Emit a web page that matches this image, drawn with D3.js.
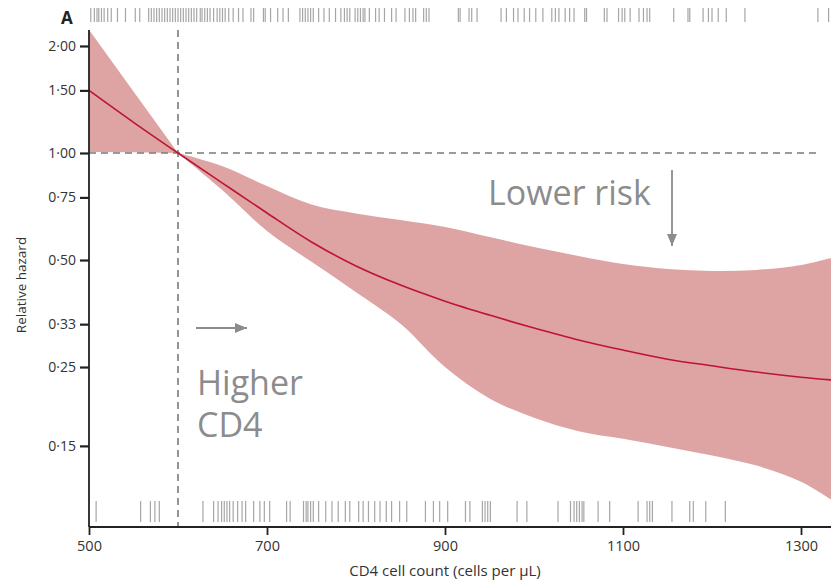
<!DOCTYPE html>
<meta charset="utf-8">
<style>
  body { margin: 0; background: #fff; }
  text { font-family: "Open Sans", "DejaVu Sans", sans-serif; }
</style>
<script src="https://cdn.jsdelivr.net/npm/d3@7"></script>

<div id="d3chart"></div>

<script>
    // CD4 grid and estimated curves (relative hazard)
    var cd4 = [500, 550, 600, 650, 700, 750, 800, 850, 900, 950, 1000, 1050, 1100, 1150, 1200, 1250, 1300, 1334];
    var hazard = [1.50, 1.22, 1.00, 0.823, 0.678, 0.562, 0.481, 0.425, 0.383, 0.350, 0.322, 0.298, 0.279, 0.263, 0.252, 0.242, 0.234, 0.230];
    var upper = [2.22, 1.49, 1.00, 0.918, 0.807, 0.716, 0.676, 0.648, 0.619, 0.580, 0.544, 0.513, 0.487, 0.472, 0.466, 0.469, 0.484, 0.507];
    var lower = [1.006, 1.005, 1.00, 0.785, 0.603, 0.494, 0.406, 0.331, 0.250, 0.204, 0.180, 0.165, 0.157, 0.149, 0.141, 0.132, 0.119, 0.106];

    // rug of observations (CD4 values)
    var rugTop = [502, 506, 509, 511, 514, 517, 521, 525, 532, 541, 552, 557, 567, 570, 573, 576, 579, 582, 585, 588,
        591, 594, 597, 600, 603, 606, 609, 612, 615, 618, 621, 625, 627, 630, 633, 636, 640, 644, 647, 650,
        653, 657, 662, 668, 673, 682, 685, 696, 698, 704, 712, 718, 724, 737, 740, 743, 746, 749, 752, 758,
        764, 770, 777, 783, 787, 790, 793, 799, 802, 805, 808, 810, 815, 822, 826, 832, 840, 845, 855, 860,
        864, 867, 876, 879, 882, 915, 917, 927, 930, 936, 963, 969, 977, 982, 989, 995, 1002, 1010, 1020, 1024,
        1028, 1035, 1040, 1045, 1057, 1059, 1079, 1082, 1095, 1099, 1102, 1108, 1118, 1123, 1127, 1130, 1157, 1173, 1175, 1190,
        1196, 1200, 1207, 1216, 1237, 1319, 1331];
    var rugBottom = [508, 558, 569, 574, 579, 628, 640, 645, 649, 652, 655, 658, 662, 667, 672, 676, 685, 692, 697, 703,
        722, 726, 741, 744, 746, 749, 752, 758, 766, 773, 780, 788, 793, 803, 808, 814, 821, 827, 834, 840,
        849, 857, 878, 887, 894, 903, 923, 928, 942, 945, 948, 951, 981, 992, 1027, 1041, 1045, 1048, 1051, 1054,
        1056, 1072, 1085, 1117, 1127, 1130, 1133, 1155, 1175, 1179, 1193, 1215];

    var xTicks = [500, 700, 900, 1100, 1300];
    var yTicks = [2.00, 1.50, 1.00, 0.75, 0.50, 0.33, 0.25, 0.15];

    var data = cd4.map(function(c, i) {
        return {x: c, h: hazard[i], hi: upper[i], lo: lower[i]};
    });

    var W = 831, H = 582;
    var svg = d3.select("#d3chart")
        .append("svg")
        .attr("width", W)
        .attr("height", H);

    var x = d3.scaleLinear()
        .domain([500, 1300])
        .range([89, 801]);

    var y = d3.scaleLog()
        .domain([0.0887, 2.218])
        .range([527, 30]);

    var grey = "#8c8c8c";

    // confidence band, split at the reference point (600)
    var area = d3.area()
        .x(function(d) { return x(d.x); })
        .y0(function(d) { return y(d.lo); })
        .y1(function(d) { return y(d.hi); });

    svg.append("path")
        .datum(data.filter(function(d) { return d.x <= 600; }))
        .attr("fill", "#dea4a3")
        .attr("d", area.curve(d3.curveLinear));

    svg.append("path")
        .datum(data.filter(function(d) { return d.x >= 600; }))
        .attr("fill", "#dea4a3")
        .attr("d", area.curve(d3.curveCatmullRom.alpha(0.5)));

    // reference lines
    svg.append("line")
        .attr("x1", x(500)).attr("x2", x(1318))
        .attr("y1", y(1)).attr("y2", y(1))
        .attr("stroke", "#7a7a7a")
        .attr("stroke-width", 1.6)
        .attr("stroke-dasharray", "7,5");

    svg.append("line")
        .attr("x1", x(600)).attr("x2", x(600))
        .attr("y1", y(2.218)).attr("y2", y(0.0887))
        .attr("stroke", "#7a7a7a")
        .attr("stroke-width", 1.6)
        .attr("stroke-dasharray", "7,5");

    // hazard line
    svg.append("path")
        .datum(data)
        .attr("fill", "none")
        .attr("stroke", "#be1432")
        .attr("stroke-width", 1.6)
        .attr("d", d3.line()
            .x(function(d) { return x(d.x); })
            .y(function(d) { return y(d.h); })
            .curve(d3.curveCatmullRom.alpha(0.5)));

    // rugs
    svg.append("g").selectAll("line")
        .data(rugTop)
        .enter().append("line")
        .attr("x1", function(d) { return x(d); })
        .attr("x2", function(d) { return x(d); })
        .attr("y1", 8).attr("y2", 22)
        .attr("stroke", "#888")
        .attr("stroke-opacity", 0.75)
        .attr("stroke-width", 1.2);

    svg.append("g").selectAll("line")
        .data(rugBottom)
        .enter().append("line")
        .attr("x1", function(d) { return x(d); })
        .attr("x2", function(d) { return x(d); })
        .attr("y1", 501).attr("y2", 522)
        .attr("stroke", "#888")
        .attr("stroke-opacity", 0.75)
        .attr("stroke-width", 1.2);

    // axes
    var fmt = function(d) { return d.toFixed(2).replace(".", "\u00b7"); };

    var yAxis = svg.append("g")
        .attr("transform", "translate(89,0)")
        .call(d3.axisLeft(y).tickValues(yTicks).tickFormat(fmt).tickSize(9).tickPadding(4));
    yAxis.select(".domain").attr("d", "M0," + y(2.218) + "V" + y(0.0887)).attr("stroke", "#222").attr("stroke-width", 1.8);
    yAxis.selectAll(".tick line").attr("stroke", "#222").attr("stroke-width", 2.2);
    yAxis.selectAll(".tick text").attr("font-size", 14).attr("fill", "#333")
        .attr("font-family", "'Open Sans', sans-serif");

    var xAxis = svg.append("g")
        .attr("transform", "translate(0,527)")
        .call(d3.axisBottom(x).tickValues(xTicks).tickFormat(d3.format("d")).tickSize(8).tickPadding(6));
    xAxis.select(".domain").attr("d", "M" + x(500) + ",0H" + W).attr("stroke", "#222").attr("stroke-width", 1.8);
    xAxis.selectAll(".tick line").attr("stroke", "#222").attr("stroke-width", 1.8);
    xAxis.selectAll(".tick text").attr("font-size", 14.5).attr("fill", "#333")
        .attr("font-family", "'Open Sans', sans-serif");

    // axis titles
    svg.append("text")
        .attr("text-anchor", "middle")
        .attr("x", 445)
        .attr("y", 576)
        .attr("font-size", 15)
        .attr("fill", "#333")
        .text("CD4 cell count (cells per \u03bcL)");

    svg.append("text")
        .attr("text-anchor", "middle")
        .attr("transform", "translate(26,285) rotate(-90)")
        .attr("font-size", 13.5)
        .attr("fill", "#333")
        .text("Relative hazard");

    svg.append("text")
        .attr("x", 61)
        .attr("y", 24)
        .attr("font-size", 17)
        .attr("font-weight", "bold")
        .attr("fill", "#222")
        .text("A");

    // annotations
    var defs = svg.append("defs");
    defs.append("marker")
        .attr("id", "arr")
        .attr("viewBox", "0 0 12 10")
        .attr("refX", 12).attr("refY", 5)
        .attr("markerUnits", "userSpaceOnUse")
        .attr("markerWidth", 13).attr("markerHeight", 10)
        .attr("orient", "auto")
        .append("path")
        .attr("d", "M0,0L12,5L0,10Z")
        .attr("fill", grey);

    svg.append("text")
        .attr("x", 488).attr("y", 205)
        .attr("font-size", 34)
        .attr("fill", grey)
        .text("Lower risk");

    svg.append("line")
        .attr("x1", 672).attr("x2", 672)
        .attr("y1", 170).attr("y2", 246)
        .attr("stroke", grey).attr("stroke-width", 1.8)
        .attr("marker-end", "url(#arr)");

    svg.append("line")
        .attr("x1", 196).attr("x2", 247)
        .attr("y1", 328).attr("y2", 328)
        .attr("stroke", grey).attr("stroke-width", 1.8)
        .attr("marker-end", "url(#arr)");

    svg.append("text")
        .attr("x", 197).attr("y", 395)
        .attr("font-size", 34)
        .attr("fill", grey)
        .text("Higher");

    svg.append("text")
        .attr("x", 197).attr("y", 437)
        .attr("font-size", 34)
        .attr("fill", grey)
        .text("CD4");
</script>
